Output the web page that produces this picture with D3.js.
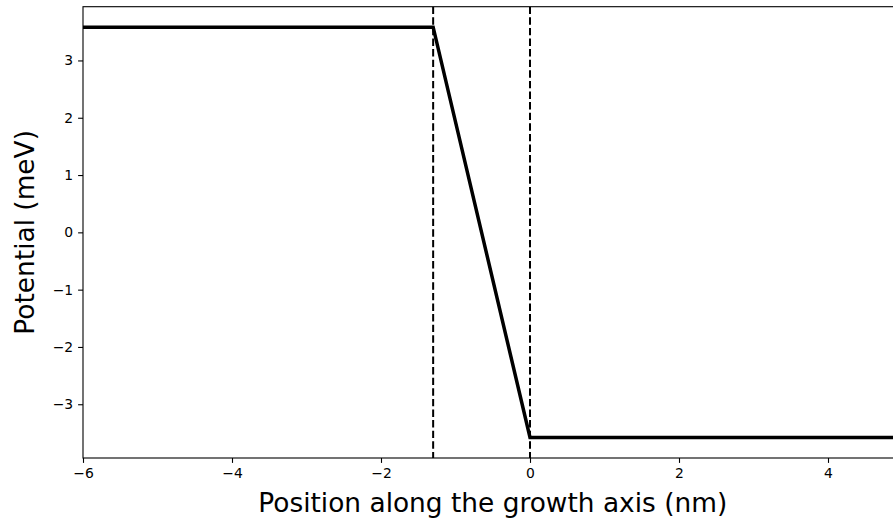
<!DOCTYPE html>
<html>
<head>
<meta charset="utf-8">
<script src="https://cdn.jsdelivr.net/npm/d3@7"></script>
<style>
  html, body { margin: 0; padding: 0; background: #fff; }
  svg { display: block; }
  text { font-family: "DejaVu Sans", sans-serif; fill: #000; }
</style>
</head>
<body>
<svg id="chart" width="893" height="522"></svg>
<script>
// Potential profile across the interface (nm, meV)
const positions = [-6, -1.3, 0, 5];
const potential = [3.58, 3.58, -3.58, -3.58];
// Interface markers
const interfaces = [-1.3, 0];
const xTicks = [-6, -4, -2, 0, 2, 4];
const yTicks = [-3, -2, -1, 0, 1, 2, 3];
const xLabel = "Position along the growth axis (nm)";
const yLabel = "Potential (meV)";

const svg = d3.select("#chart");
const mLeft = 83, mTop = 6.7, mBottom = 458, mRight = 902.5;

const x = d3.scaleLinear().domain([-6, 5]).range([mLeft, mRight]);
const y = d3.scaleLinear().domain([-3.938, 3.938]).range([mBottom, mTop]);

const defs = svg.append("defs");
defs.append("clipPath").attr("id", "plotclip")
  .append("rect").attr("x", mLeft).attr("y", mTop)
  .attr("width", mRight - mLeft).attr("height", mBottom - mTop);

const plot = svg.append("g").attr("clip-path", "url(#plotclip)");

// dashed interface lines
plot.selectAll("line.iface").data(interfaces).enter().append("line")
  .attr("class", "iface")
  .attr("x1", d => x(d)).attr("x2", d => x(d))
  .attr("y1", mTop).attr("y2", mBottom)
  .attr("stroke", "#000").attr("stroke-width", 2)
  .attr("stroke-dasharray", "7.4,3.2");

// potential curve
const line = d3.line().x(d => x(d[0])).y(d => y(d[1]));
plot.append("path")
  .datum(positions.map((p, i) => [p, potential[i]]))
  .attr("d", line)
  .attr("fill", "none")
  .attr("stroke", "#000")
  .attr("stroke-width", 3.5)
  .attr("stroke-linejoin", "miter");

// axes
const fmt = d => d3.format("")(d).replace("-", "\u2212");
const xAxis = d3.axisBottom(x).tickValues(xTicks).tickFormat(fmt)
  .tickSize(4.9).tickPadding(4.9);
const yAxis = d3.axisLeft(y).tickValues(yTicks).tickFormat(fmt)
  .tickSize(4.9).tickPadding(4.9);

const gx = svg.append("g").attr("transform", `translate(0,${mBottom})`).call(xAxis);
const gy = svg.append("g").attr("transform", `translate(${mLeft},0)`).call(yAxis);
[gx, gy].forEach(g => {
  g.select(".domain").remove();
  g.selectAll(".tick line").attr("stroke", "#000").attr("stroke-width", 1.1);
  g.selectAll(".tick text").attr("font-size", 13.9).attr("font-family", "DejaVu Sans").attr("fill", "#000");
});

// frame
svg.append("rect")
  .attr("x", mLeft).attr("y", mTop)
  .attr("width", mRight - mLeft).attr("height", mBottom - mTop)
  .attr("fill", "none").attr("stroke", "#000").attr("stroke-width", 1.1);

// axis labels
svg.append("text")
  .attr("x", (mLeft + mRight) / 2).attr("y", 512)
  .attr("text-anchor", "middle").attr("font-size", 26.4)
  .text(xLabel);
svg.append("text")
  .attr("transform", `translate(34,${(mTop + mBottom) / 2}) rotate(-90)`)
  .attr("text-anchor", "middle").attr("font-size", 26.4)
  .text(yLabel);
</script>
</body>
</html>
